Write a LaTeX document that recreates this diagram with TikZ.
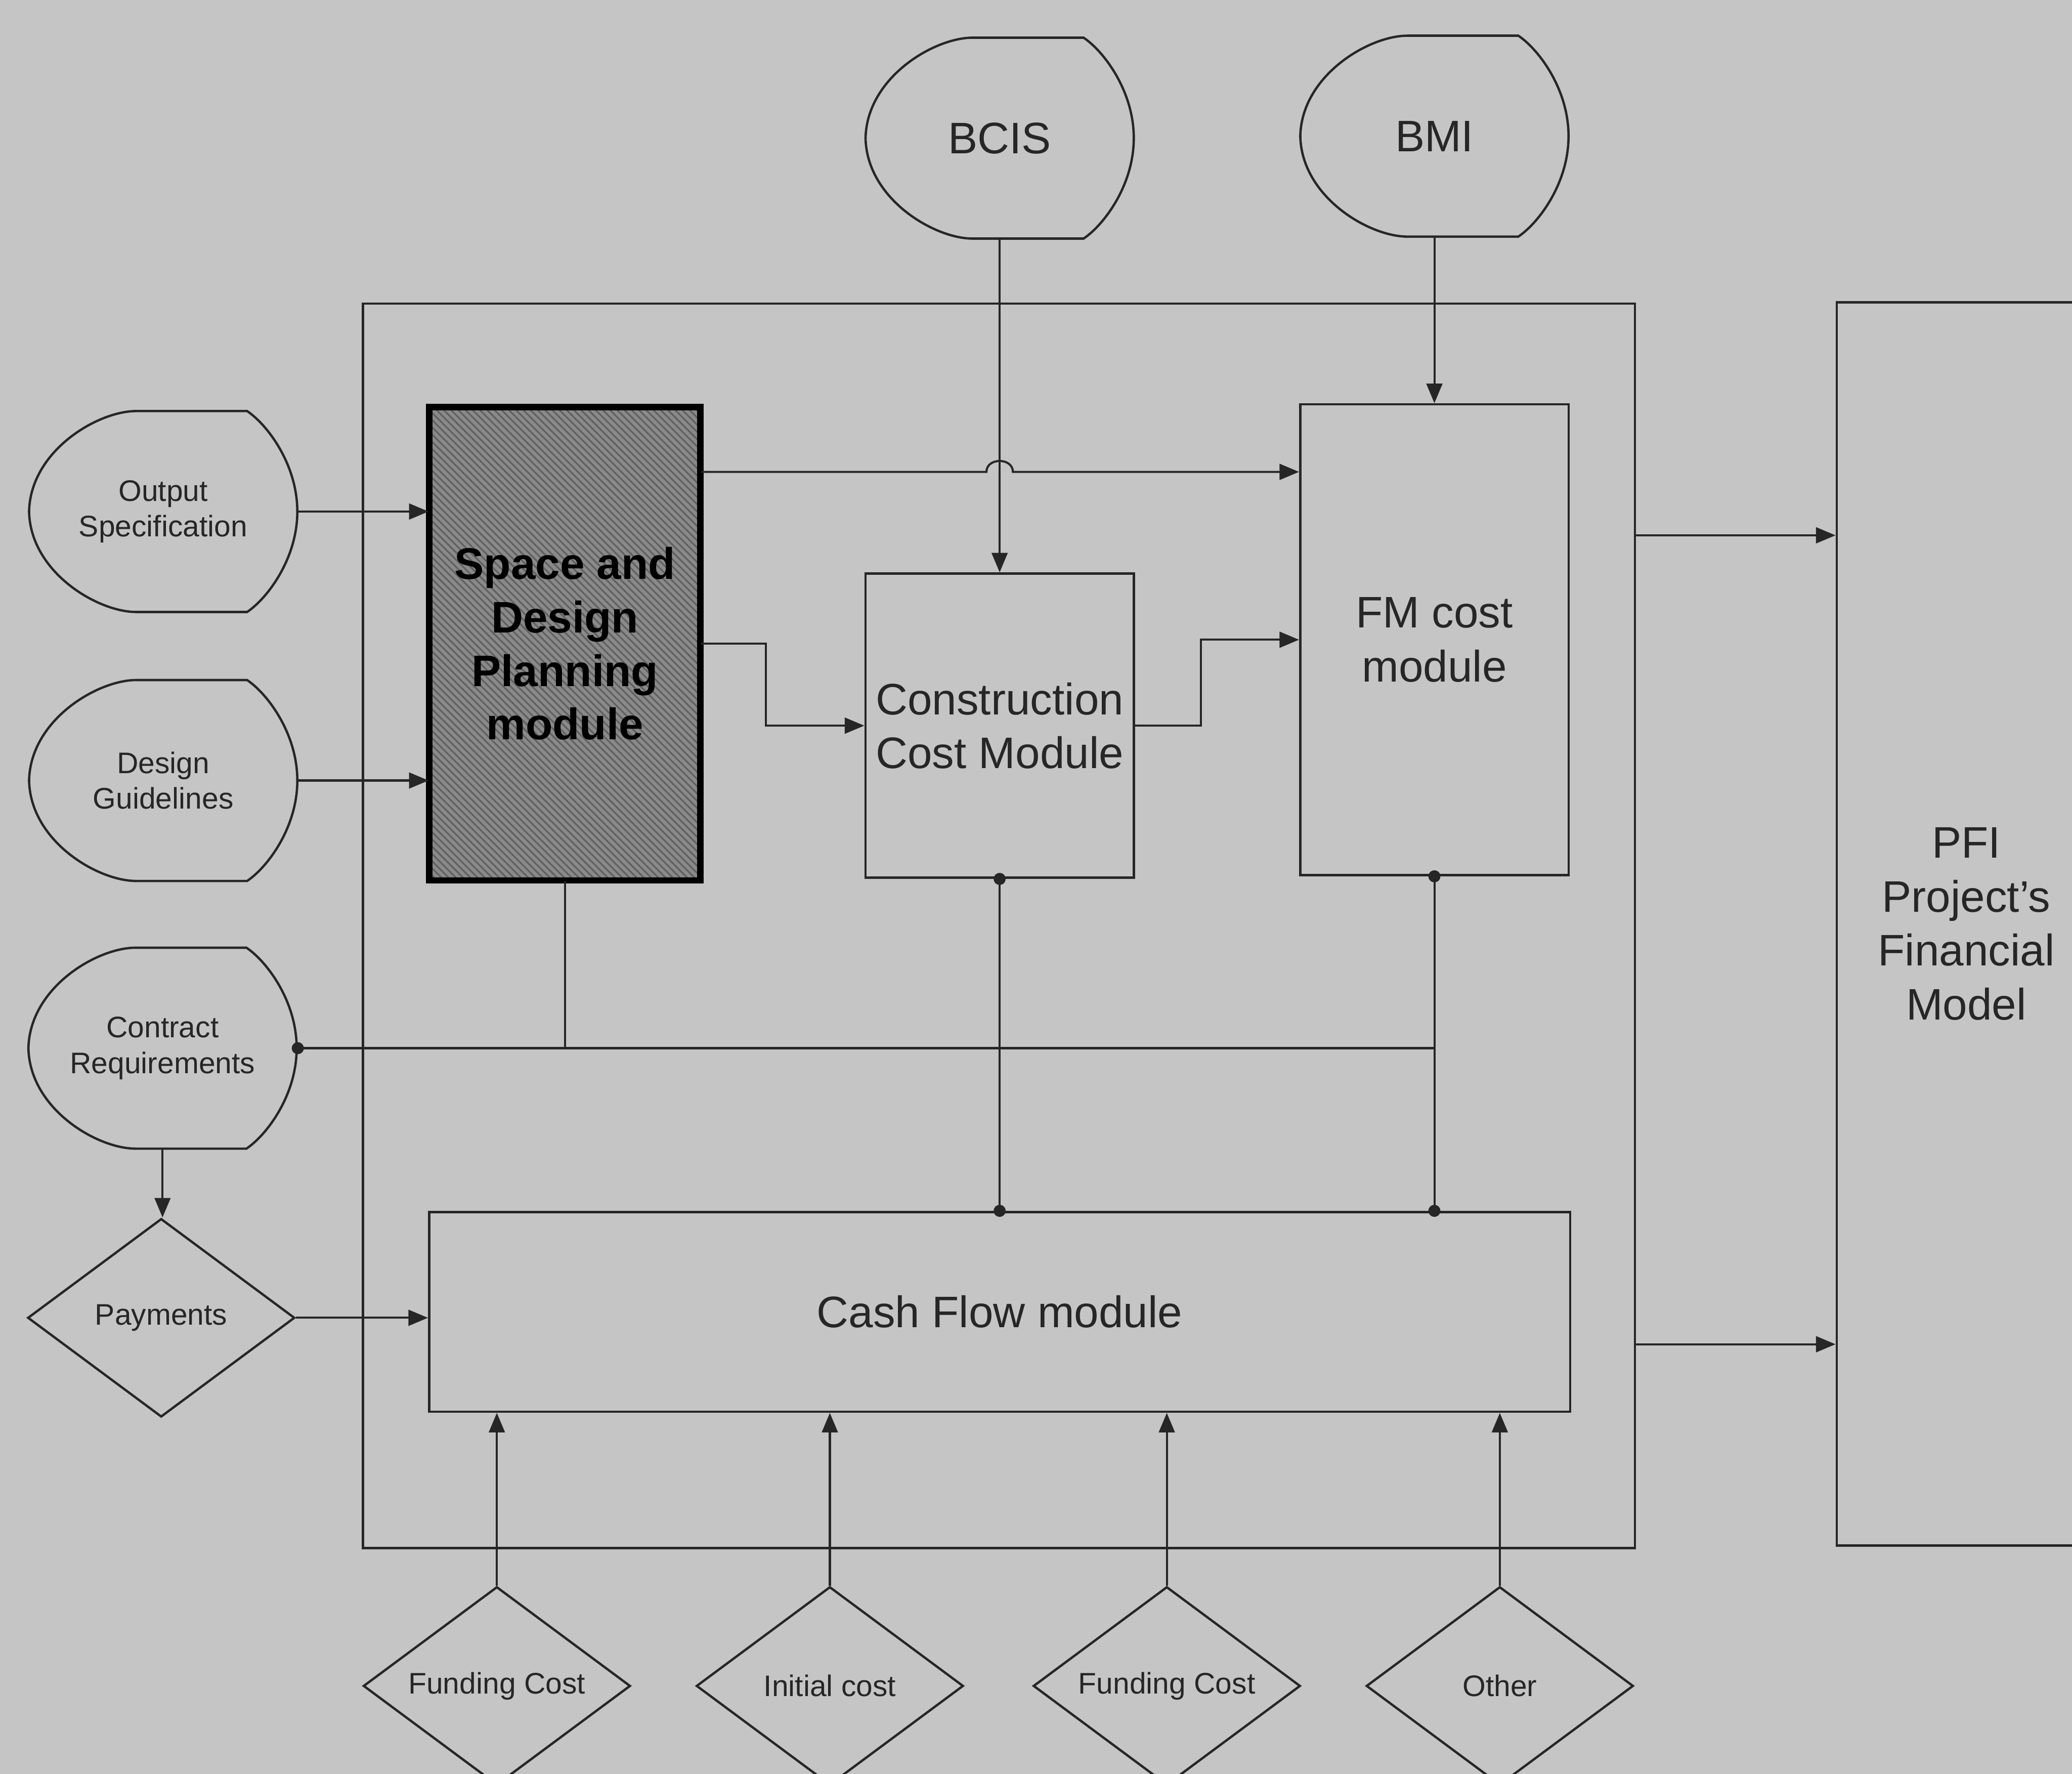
\documentclass[tikz,border=0pt]{standalone}
\usepackage{fontspec}
\setmainfont{Liberation Sans}
\usetikzlibrary{arrows.meta,shapes.geometric,calc,patterns.meta}
\definecolor{paper}{RGB}{197,197,197}
\definecolor{ink}{RGB}{38,38,38}
\definecolor{shade}{RGB}{138,138,138}
\definecolor{hatch}{RGB}{96,96,96}

% outline of a data-source symbol (pointed left side, rounded right side)
\newcommand\sourceoutline[1]{%
  \draw[line width=0.5pt,shift={(#1.center)}]
    (-20.5,-76) -- (63.5,-76)
    .. controls (78.5,-66) and (101.5,-36) .. (101.5,0)
    .. controls (101.5,36) and (78.5,66) .. (63.5,76)
    -- (-20.5,76)
    .. controls (-49.5,76) and (-100.5,46) .. (-101.5,0)
    .. controls (-100.5,-46) and (-49.5,-76) .. cycle;}

\begin{document}
\begin{tikzpicture}[x=0.01cm,y=-0.01cm,color=ink,line width=0.45pt,
  mainfont/.style={font=\fontsize{9.5}{11.6}\selectfont},
  smallfont/.style={font=\fontsize{6.4}{7.7}\selectfont},
  box/.style={draw=ink,line width=0.5pt,inner sep=0pt,align=center,text=ink,mainfont},
  source/.style={inner sep=0pt,minimum width=2.03cm,minimum height=1.52cm,align=center,text=ink},
  choice/.style={diamond,shape aspect=1.35,draw=ink,line width=0.5pt,inner sep=0pt,
    minimum width=2.02cm,minimum height=1.5cm,text=ink,smallfont},
  arr/.style={draw=ink,-{Triangle[length=4.2pt,width=3.4pt]}},
  link/.style={draw=ink},
  dot/.style={fill=ink}
]
\useasboundingbox (0,0) rectangle (1568,1342);
\fill[paper] (0,0) rectangle (1568,1342);
\clip (0,0) rectangle (1568,1342);

% enclosing frame of the cost model
\node[box,minimum width=9.62cm,minimum height=9.41cm] (cont) at (756,700.5) {};

% external data sources
\node[source,mainfont] (bcis) at (756.5,104.5) {BCIS};
\node[source,mainfont] (bmi) at (1085.5,103) {BMI};
\node[source,smallfont] (outspec) at (123.5,387) {Output\\Specification};
\node[source,smallfont] (design) at (123.5,590.5) {Design\\Guidelines};
\node[source,smallfont] (contract) at (123,793) {Contract\\Requirements};
\sourceoutline{bcis}
\sourceoutline{bmi}
\sourceoutline{outspec}
\sourceoutline{design}
\sourceoutline{contract}

% modules
\node[box,minimum width=2.05cm,minimum height=3.58cm,line width=1.4pt,draw=black,
  preaction={fill=shade},
  pattern={Lines[angle=-45,distance=1.1pt,line width=0.35pt]},pattern color=hatch,
  font=\bfseries\fontsize{9.5}{11.5}\selectfont,text=black] (spd) at (427.5,487)
  {Space and\\Design\\Planning\\module};
\node[box,minimum width=2.03cm,minimum height=2.3cm] (cc) at (756.5,549) {Construction\\Cost Module};
\node[box,minimum width=2.03cm,minimum height=3.56cm] (fm) at (1085.5,484) {FM cost\\module};
\node[box,minimum width=8.63cm,minimum height=1.51cm] (cf) at (756.5,992.5) {Cash Flow module};
\node[box,minimum width=1.96cm,minimum height=9.4cm] (pfi) at (1488,699) {PFI\\Project's\\Financial\\Model};

% cost inputs
\node[choice] (pay) at (122,997) {Payments};
\node[choice] (fund1) at (376,1275.5) {Funding Cost};
\node[choice] (init) at (628,1275.5) {Initial cost};
\node[choice] (fund2) at (883,1275.5) {Funding Cost};
\node[choice] (other) at (1135,1275.5) {Other};

% helper rows
\coordinate (yjump) at (0,357);
\coordinate (yout) at (0,405);
\coordinate (ycash) at (0,1017);
\coordinate (jc) at (bcis.south |- yjump);

% data feeds
\draw[arr] (bcis.south) -- (bcis.south |- cc.north);
\draw[arr] (bmi.south) -- (bmi.south |- fm.north);
\draw[arr] (outspec.east) -- (outspec.east -| spd.west);
\draw[arr] (design.east) -- (design.east -| spd.west);

% space planning to FM, hopping over the BCIS feed
\draw[arr] (spd.east |- yjump) -- ($(jc)+(-10,0)$)
  .. controls ($(jc)+(-10,-11)$) and ($(jc)+(10,-11)$) .. ($(jc)+(10,0)$)
  -- (fm.west |- yjump);

% space planning -> construction -> FM
\draw[arr] (spd.east) -- ++(49,0) |- (cc.west);
\draw[arr] (cc.east) -- ++(50,0) |- (fm.west);

% contract requirements bus
\draw[link] (contract.east) -- (contract.east -| fm.south);
\draw[link] (spd.south) -- (spd.south |- contract.east);
\fill[dot] (contract.east) circle[radius=1.3pt];

% module outputs into cash flow
\draw[link] (cc.south) -- (cc.south |- cf.north);
\draw[link] (fm.south) -- (fm.south |- cf.north);
\fill[dot] (cc.south) circle[radius=1.3pt];
\fill[dot] (cc.south |- cf.north) circle[radius=1.3pt];
\fill[dot] (fm.south) circle[radius=1.3pt];
\fill[dot] (fm.south |- cf.north) circle[radius=1.3pt];

% payments
\draw[arr] (contract.south) -- (contract.south |- pay.north);
\draw[arr] (pay.east) -- (pay.east -| cf.west);

% financing inputs
\draw[arr] (fund1.north) -- (fund1.north |- cf.south);
\draw[arr] (init.north) -- (init.north |- cf.south);
\draw[arr] (fund2.north) -- (fund2.north |- cf.south);
\draw[arr] (other.north) -- (other.north |- cf.south);

% results to the financial model
\draw[arr] (cont.east |- yout) -- (pfi.west |- yout);
\draw[arr] (cont.east |- ycash) -- (pfi.west |- ycash);
\end{tikzpicture}
\end{document}
